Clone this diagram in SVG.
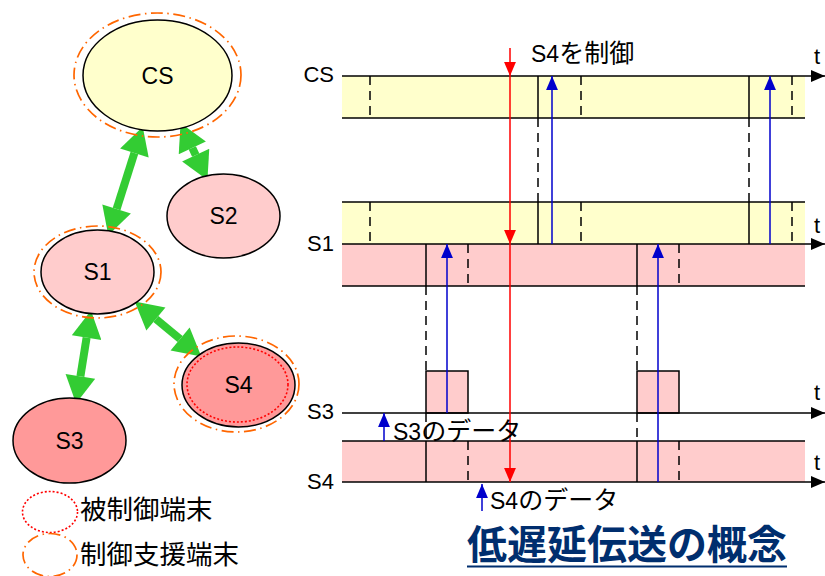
<svg xmlns="http://www.w3.org/2000/svg" width="825" height="576" viewBox="0 0 825 576">
<style>
.lbl{font-family:"Liberation Sans","Noto Sans CJK JP",sans-serif;font-size:22px;fill:#000}
.jp{font-family:"Noto Sans CJK JP",sans-serif;font-size:25px}
.node{stroke:#000;stroke-width:1.5}
.sup{fill:none;stroke:#FF6600;stroke-width:1.7;stroke-dasharray:12 4.5 1.5 4.5}
.ctl{fill:none;stroke:#FF0000;stroke-width:1.6;stroke-dasharray:2 2}
.g{stroke:#33CC33;stroke-width:8;fill:none;marker-start:url(#ga);marker-end:url(#ga)}
.bl{stroke:#000;stroke-width:1.5;fill:none}
.pulse{stroke:#000;stroke-width:1.5;fill:#FFCCCC}
.ds{stroke:#000;stroke-width:1.5;stroke-dasharray:9 6;fill:none}
.red{stroke:#FF0000;stroke-width:1.5;marker-end:url(#ra)}
.blu{stroke:#0000CC;stroke-width:1.5;marker-end:url(#ba)}
.ax{stroke:#000;stroke-width:1.5;marker-end:url(#ka)}
</style>
<defs>
<marker id="ga" markerUnits="userSpaceOnUse" markerWidth="30" markerHeight="30" viewBox="0 -12 22 24" refX="0" refY="0" orient="auto-start-reverse"><path d="M0,-12 L22,0 L0,12 z" fill="#33CC33"/></marker>
<marker id="ra" markerUnits="userSpaceOnUse" markerWidth="14" markerHeight="14" viewBox="-13 -6 13 12" refX="0" refY="0" orient="auto"><path d="M0,0 L-13,-5.5 L-13,5.5 z" fill="#FF0000"/></marker>
<marker id="ba" markerUnits="userSpaceOnUse" markerWidth="14" markerHeight="14" viewBox="-13 -6 13 12" refX="0" refY="0" orient="auto"><path d="M0,0 L-13,-5.5 L-13,5.5 z" fill="#0000CC"/></marker>
<marker id="ka" markerUnits="userSpaceOnUse" markerWidth="14" markerHeight="14" viewBox="-13 -6 13 12" refX="0" refY="0" orient="auto"><path d="M0,0 L-13,-5.5 L-13,5.5 z" fill="#000"/></marker>
</defs>
<rect width="825" height="576" fill="#fff"/>

<g id="connectors">
<line class="g" x1="134.4" y1="153" x2="116.6" y2="209"/>
<line class="g" x1="192.3" y1="147.9" x2="195.7" y2="155.1"/>
<line class="g" x1="86.6" y1="337.7" x2="80.4" y2="376.3"/>
<line class="g" x1="155.9" y1="319" x2="180.1" y2="339"/>
</g>

<g id="node-CS">
<ellipse class="node" cx="157.5" cy="75.5" rx="74.5" ry="55.5" fill="#FFFFCC"/>
<ellipse class="sup" cx="157.5" cy="75" rx="83.5" ry="62"/>
<text class="lbl" x="157.5" y="83.5" text-anchor="middle" style="font-size:23px">CS</text>
</g>
<g id="node-S2">
<ellipse class="node" cx="223.5" cy="216" rx="56.5" ry="42" fill="#FFCCCC"/>
<text class="lbl" x="223.5" y="224" text-anchor="middle" style="font-size:23px">S2</text>
</g>
<g id="node-S1">
<ellipse class="node" cx="97.5" cy="272" rx="56.5" ry="42" fill="#FFCCCC"/>
<ellipse class="sup" cx="97.5" cy="272" rx="63.5" ry="46"/>
<text class="lbl" x="97.5" y="280" text-anchor="middle" style="font-size:23px">S1</text>
</g>
<g id="node-S4">
<ellipse class="node" cx="238.5" cy="385" rx="56.5" ry="42" fill="#FF9999"/>
<ellipse class="ctl" cx="237.5" cy="384.5" rx="50.5" ry="37.5"/>
<ellipse class="sup" cx="236.5" cy="384" rx="62.5" ry="48"/>
<text class="lbl" x="238.5" y="393" text-anchor="middle" style="font-size:23px">S4</text>
</g>
<g id="node-S3">
<ellipse class="node" cx="69.5" cy="440.5" rx="56.5" ry="42.5" fill="#FF9999"/>
<text class="lbl" x="69.5" y="448.5" text-anchor="middle" style="font-size:23px">S3</text>
</g>

<g id="legend">
<ellipse class="ctl" cx="50" cy="512" rx="27.5" ry="20.5"/>
<text class="lbl jp" x="80" y="519" style="font-size:26.5px">被制御端末</text>
<ellipse class="sup" cx="50" cy="555" rx="27" ry="21.5"/>
<text class="lbl jp" x="80" y="564" style="font-size:26.5px">制御支援端末</text>
</g>

<g id="timing">
<rect x="342" y="76" width="463" height="42" fill="#FFFFCC"/>
<rect x="342" y="202" width="463" height="42" fill="#FFFFCC"/>
<rect x="342" y="244" width="463" height="42" fill="#FFCCCC"/>
<rect x="342" y="441" width="463" height="41" fill="#FFCCCC"/>
<rect class="pulse" x="426" y="371" width="42" height="42"/>
<rect class="pulse" x="637" y="371" width="42" height="42"/>

<line class="bl" x1="342" y1="118" x2="805" y2="118"/>
<line class="bl" x1="342" y1="202" x2="805" y2="202"/>
<line class="bl" x1="342" y1="286" x2="805" y2="286"/>
<line class="bl" x1="342" y1="441" x2="805" y2="441"/>

<path class="bl" d="M538,76V118M749,76V118M538,202V244M749,202V244M426,244V286M637,244V286M426,441V482M637,441V482"/>
<path class="ds" d="M370,76V118M581,76V118M792,76V118M370,202V244M581,202V244M792,202V244M538,118V202M749,118V202M468,244V286M679,244V286M426,286V371M637,286V371M426,413V441M637,413V441M468,441V482M679,441V482"/>

<line class="ax" x1="342" y1="76" x2="825" y2="76"/>
<line class="ax" x1="342" y1="244" x2="825" y2="244"/>
<line class="ax" x1="342" y1="413" x2="825" y2="413"/>
<line class="ax" x1="342" y1="482" x2="825" y2="482"/>

<line class="blu" x1="552" y1="244" x2="552" y2="76"/>
<line class="blu" x1="770" y1="244" x2="770" y2="76"/>
<line class="blu" x1="447" y1="413" x2="447" y2="244"/>
<line class="blu" x1="658" y1="482" x2="658" y2="244"/>
<line class="blu" x1="384" y1="441" x2="384" y2="413"/>
<line class="blu" x1="482" y1="511" x2="482" y2="484"/>

<line class="red" x1="510" y1="48" x2="510" y2="76"/>
<line class="red" x1="510" y1="76" x2="510" y2="244"/>
<line class="red" x1="510" y1="244" x2="510" y2="482"/>

<text class="lbl" x="334" y="82" text-anchor="end">CS</text>
<text class="lbl" x="334" y="251" text-anchor="end">S1</text>
<text class="lbl" x="334" y="419" text-anchor="end">S3</text>
<text class="lbl" x="334" y="489" text-anchor="end">S4</text>
<text class="lbl" x="814" y="64">t</text>
<text class="lbl" x="814" y="233">t</text>
<text class="lbl" x="814" y="400">t</text>
<text class="lbl" x="814" y="470">t</text>

<text class="lbl" x="531" y="62" style="font-size:23px">S4<tspan class="jp">を制御</tspan></text>
<text class="lbl" x="393" y="440" style="font-size:23px">S3<tspan class="jp">のデータ</tspan></text>
<text class="lbl" x="490" y="509" style="font-size:23px">S4<tspan class="jp">のデータ</tspan></text>
</g>

<g id="title">
<text x="467" y="559" style="font-family:'Noto Sans CJK JP',sans-serif;font-size:40px;font-weight:bold;fill:#002E6E">低遅延伝送の概念</text>
<line x1="467" y1="566.5" x2="787" y2="566.5" stroke="#002E6E" stroke-width="2"/>
</g>
</svg>
